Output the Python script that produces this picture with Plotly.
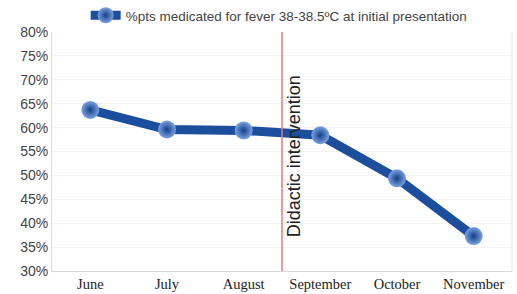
import plotly.graph_objects as go

months = ["June", "July", "August", "September", "October", "November"]
pct_medicated = [63.7, 59.6, 59.4, 58.4, 49.4, 37.3]
series_name = "%pts medicated for fever 38-38.5\u00baC at initial presentation"
intervention_after = "August"
intervention_label = "Didactic intervention"
y_ticks = [30, 35, 40, 45, 50, 55, 60, 65, 70, 75, 80]
y_tick_labels = [f"{v}%" for v in y_ticks]

fig = go.Figure()
fig.add_trace(go.Scatter(
    x=months, y=pct_medicated, name=series_name, mode="lines+markers",
    line=dict(color="#1b4f9e", width=9),
    marker=dict(size=18, color="#7aa3e3", line=dict(width=0),
                gradient=dict(type="radial", color="#153f85")),
))

xline = months.index(intervention_after) + 0.5
fig.add_shape(type="line", xref="x", yref="paper", x0=xline, x1=xline, y0=0, y1=1,
              line=dict(color="#e07b7b", width=1.5))
fig.add_annotation(x=xline, y=54, xref="x", yref="y", text=intervention_label,
                   textangle=-90, showarrow=False, xanchor="left", xshift=0,
                   font=dict(family="Arial, Liberation Sans", size=18, color="#222"))

fig.update_layout(
    width=517, height=294,
    margin=dict(l=52, r=5, t=32, b=23, autoexpand=False),
    paper_bgcolor="white", plot_bgcolor="white",
    showlegend=True,
    legend=dict(orientation="h", x=0.54, xanchor="center", xref="container",
                y=1.0, yanchor="top", yref="container",
                font=dict(family="Arial, Liberation Sans", size=13.5, color="#444"),
                itemwidth=30),
    xaxis=dict(type="category", showgrid=False, showline=True, linecolor="#d8d8d8",
               ticks="", ticklen=0,
               tickfont=dict(family="Liberation Serif, Times New Roman", size=14.5, color="#222"),
               mirror=False, range=[-0.5, 5.5]),
    yaxis=dict(range=[30, 80], tickvals=y_ticks, ticktext=y_tick_labels,
               showgrid=True, gridcolor="#f2f2f2", showline=True, linecolor="#e0e0e0",
               tickfont=dict(family="Arial, Liberation Sans", size=14, color="#444"),
               zeroline=False),
)
fig.add_shape(type="line", xref="paper", yref="paper", x0=1, x1=1, y0=0, y1=1,
              line=dict(color="#e6e6e6", width=1))

fig.write_html("out.html", config={"displayModeBar": False},
               post_script="document.body.style.margin='0';document.body.style.overflow='hidden';")
